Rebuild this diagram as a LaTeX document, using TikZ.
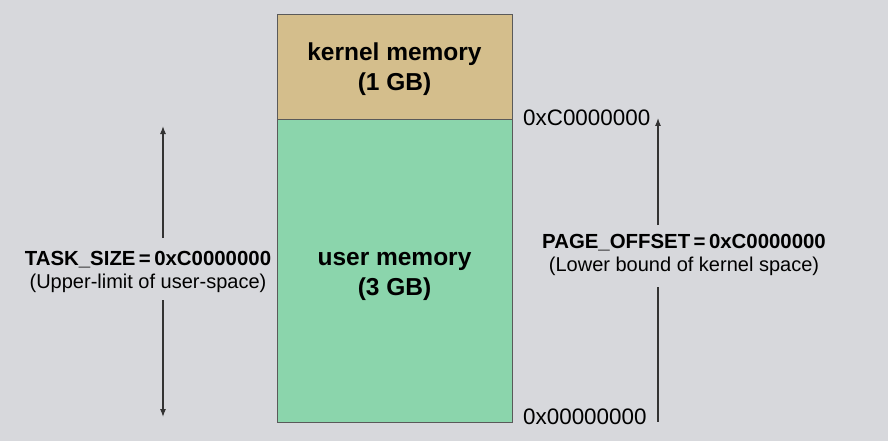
\documentclass[tikz,border=0pt]{standalone}
\usepackage{fontspec}
\setmainfont{Liberation Sans}
\usetikzlibrary{arrows.meta}
\definecolor{bgc}{HTML}{D7D8DC}
\definecolor{kern}{HTML}{D4BE8C}
\definecolor{usr}{HTML}{8BD5AC}
\definecolor{edge}{HTML}{5A5A5A}
\tikzset{
  region/.style={draw=edge, line width=1.2pt, inner sep=0pt, minimum width=235pt, anchor=north west},
  bigtext/.style={font=\fontsize{24.5}{30}\selectfont\bfseries, align=center},
  lbl/.style={align=center, inner sep=0pt},
  addr/.style={font=\fontsize{22.4}{26}\selectfont, inner sep=0pt, anchor=west},
  arr/.style={draw=black!80, line width=1.1pt},
  tip/.style={-{Latex[length=8pt,width=6pt]}},
}
\begin{document}
\begin{tikzpicture}[x=1pt,y=-1pt]
\fill[bgc] (0,0) rectangle (888,441);
\useasboundingbox (0,0) rectangle (888,441);
\node[region, fill=kern, minimum height=105pt] (kernel) at (277,14) {};
\node[region, fill=usr, minimum height=303pt] (user) at (277,119) {};
\node[bigtext] (kt) at (394.5,69) {kernel memory\\(1 GB)};
\node[bigtext] (ut) at (394.5,276) {user memory\\(3 GB)};
% left label and arrows
\node[lbl] (tl) at (148,272) {{\fontsize{20.4}{25}\selectfont\bfseries TASK\_SIZE\,=\,0xC0000000}\\[5pt]{\fontsize{20}{24}\selectfont (Upper-limit of user-space)}};
\coordinate (lt) at (163,126);
\coordinate (lb) at (163,417);
\coordinate (lm1) at (163,238);
\coordinate (lm2) at (163,300);
\draw[arr, tip] (lm1) -- (lt);
\draw[arr, tip] (lm2) -- (lb);
% right
\node[addr] (a1) at (523,118) {0xC0000000};
\node[addr] (a0) at (523,417) {0x00000000};
\node[lbl] (pl) at (684,255) {{\fontsize{20.4}{25}\selectfont\bfseries PAGE\_OFFSET\,=\,0xC0000000}\\[5pt]{\fontsize{20}{24}\selectfont (Lower bound of kernel space)}};
\coordinate (rt) at (658,118);
\coordinate (rb) at (658,422);
\coordinate (rm1) at (658,225);
\coordinate (rm2) at (658,287);
\draw[arr, tip] (rm1) -- (rt);
\draw[arr] (rm2) -- (rb);
\end{tikzpicture}
\end{document}
